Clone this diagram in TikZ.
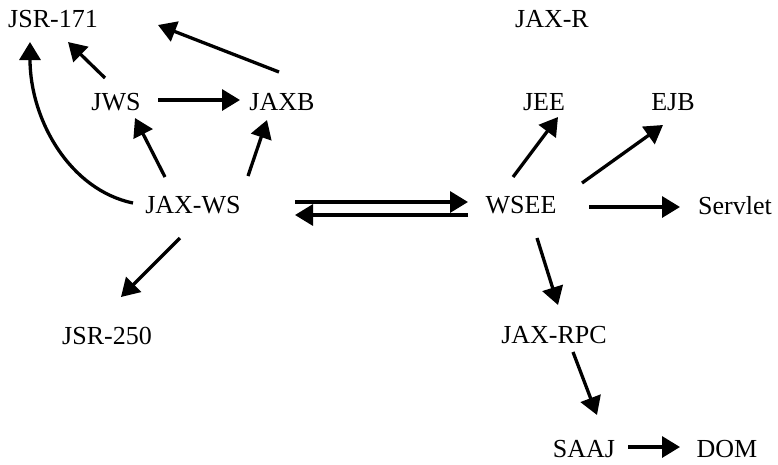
\documentclass[tikz,border=0pt]{standalone}
\usepackage{fontspec}
\setmainfont{Liberation Serif}
\usetikzlibrary{arrows.meta}

\begin{document}
\begin{tikzpicture}[x=1pt,y=-1pt,
  lbl/.style={anchor=base,inner sep=0pt,font=\fontsize{26}{30}\selectfont},
  dep/.style={line width=3.3pt,-{Triangle[length=18pt,width=21pt]}}]
  \useasboundingbox (0,0) rectangle (778,464);
  \node[lbl] (jsr171) at (53,27) {JSR-171};
  \node[lbl] (jaxr) at (552,27) {JAX-R};
  \node[lbl] (jws) at (116,110) {JWS};
  \node[lbl] (jaxb) at (282,110) {JAXB};
  \node[lbl] (jee) at (544,110) {JEE};
  \node[lbl] (ejb) at (673,110) {EJB};
  \node[lbl] (jaxws) at (193,213) {JAX-WS};
  \node[lbl] (wsee) at (521,213) {WSEE};
  \node[lbl] (servlet) at (735,214) {Servlet};
  \node[lbl] (jsr250) at (107,344) {JSR-250};
  \node[lbl] (jaxrpc) at (554,343) {JAX-RPC};
  \node[lbl] (saaj) at (584,457) {SAAJ};
  \node[lbl] (dom) at (727,457) {DOM};

  \draw[dep] ([shift={(-11,-32)}]jws.base) -- ([shift={(15,15)}]jsr171.base);
  \draw[dep] ([shift={(-3,-38)}]jaxb.base) -- ([shift={(105,-2)}]jsr171.base);
  \draw[dep] ([shift={(42,-10)}]jws.base) -- ([shift={(-42,-10)}]jaxb.base);
  \draw[dep] ([shift={(-28,-36)}]jaxws.base) -- ([shift={(19,8)}]jws.base);
  \draw[dep] ([shift={(55,-37)}]jaxws.base) -- ([shift={(-15,10)}]jaxb.base);
  \draw[dep] ([shift={(-60,-10)}]jaxws.base) .. controls +(-63,-13) and +(0,78) .. ([shift={(-23,15)}]jsr171.base);
  \draw[dep] ([shift={(-13,25)}]jaxws.base) -- ([shift={(14,-47)}]jsr250.base);
  \draw[dep] ([shift={(102,-11)}]jaxws.base) -- ([shift={(-53,-11)}]wsee.base);
  \draw[dep] ([shift={(-53,2)}]wsee.base) -- ([shift={(102,2)}]jaxws.base);
  \draw[dep] ([shift={(-8,-36)}]wsee.base) -- ([shift={(14,7)}]jee.base);
  \draw[dep] ([shift={(61,-30)}]wsee.base) -- ([shift={(-10,15)}]ejb.base);
  \draw[dep] ([shift={(68,-6)}]wsee.base) -- ([shift={(-55,-7)}]servlet.base);
  \draw[dep] ([shift={(16,25)}]wsee.base) -- ([shift={(4,-38)}]jaxrpc.base);
  \draw[dep] ([shift={(19,9)}]jaxrpc.base) -- ([shift={(13,-42)}]saaj.base);
  \draw[dep] ([shift={(44,-10)}]saaj.base) -- ([shift={(-47,-10)}]dom.base);
\end{tikzpicture}
\end{document}
